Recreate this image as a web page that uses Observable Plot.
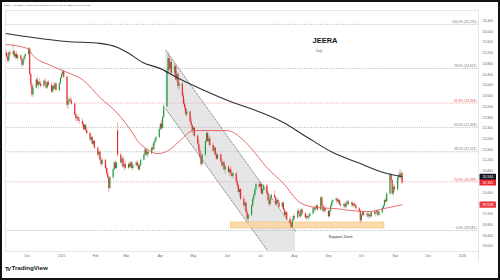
<!DOCTYPE html>
<html><head><meta charset="utf-8">
<script src="https://cdn.jsdelivr.net/npm/d3@7"></script>
<script src="https://cdn.jsdelivr.net/npm/@observablehq/plot@0.6"></script>
<style>
html,body{margin:0;padding:0;background:#fff;}
#wrap{position:relative;width:500px;height:280px;overflow:hidden;}
#frame{position:absolute;left:0;top:0;width:500px;height:280px;box-sizing:border-box;border:2px solid #111;pointer-events:none;}
</style></head><body><div id="wrap"><div id="frame"></div></div>
<script>
const headerText = "KEDIA_ADVISORY created with TradingView.com, Nov 07, 2025 11:17 UTC+5:30";
const symbolName = "JEERA";
const intervalName = "Daily";
const brand = "TradingView";

// daily OHLC, one row per week (Mon..Fri), from 2024-11-11 to 2025-11-07
const open = [
25100,25200,25050,24900,25200, 25150,25250,25050,25150,25000, 25100,24950,24750,24950,25050, 25150,25350,24400,24000,23650,
23900,24200,24000,24100,24050, 23950,24150,24050,23900,24100, 24000,23750,23950,23850,24050, 23800,24050,24250,24400,24500,
24300,23250,23400,23450,23400, 23300,22900,22750,22800,22700, 22650,22550,22350,22500,22300, 22200,21950,22050,21800,21900,
21650,21400,21500,21200,21050, 21200,20900,20700,20550,20150, 20550,20850,21100,20900,22300, 21400,21100,21250,20950,21050,
20900,21050,20950,21100,20900, 21000,21100,21000,20850,21000, 21200,21400,21600,21400,21500, 21450,21650,21600,21850,21950,
22050,22350,22550,22400,22800, 23200,24500,25000,24600,24850, 24450,24700,24200,24400,23950, 24050,23600,23300,23150,22900,
23000,22650,22500,22300,22400, 22100,21800,21550,21300,21050, 21400,21900,22200,21900,22000, 21750,21550,21650,21400,21250,
21400,21150,21000,21100,20850, 20950,20750,20850,20700,20600, 20700,20400,20250,20000,20100, 19750,19500,19600,19250,19000,
19150,19500,19750,19900,20100, 20300,20200,20300,19950,20100, 20250,19950,19700,19550,19800, 19900,19800,19550,19700,19600,
19450,19600,19350,19150,19250, 19000,18850,18700,18950,19100, 19050,19300,19200,19100,19350, 19200,19050,19100,19050,19100,
19200,19400,19350,19400,19500, 19350,19800,19500,19300,19400, 19300,19100,19300,19500,19650, 19700,19750,19650,19700,19550,
19500,19550,19450,19600,19650, 19550,19600,19500,19550,19500, 19400,19300,18950,19150,19250, 19150,19200,19100,19150,19100,
19250,19200,19250,19300,19150, 19250,19400,19500,19700,19650, 19950,20650,20450,19950,20200, 20100,20550,20650,20600,20700];
const high = [
25250,25300,25150,25250,25300, 25550,25300,25200,25250,25150, 25150,25000,25000,25100,25200, 25400,25400,24450,24100,24000,
24250,24300,24150,24250,24150, 24200,24250,24100,24150,24200, 24100,24000,24050,24100,24100, 24100,24300,24450,24550,24550,
24350,23500,23550,23550,23500, 23350,23000,22850,22900,22800, 22750,22600,22550,22550,22400, 22250,22100,22100,21950,21950,
21700,21550,21550,21300,21250, 21250,21000,20850,20600,20600, 20900,21150,21200,21150,22600, 21450,21300,21350,21100,21200,
21100,21150,21150,21150,21050, 21150,21200,21100,21050,21250, 21450,21650,21650,21550,21600, 21700,21800,21900,22000,22100,
22400,22600,22700,22850,23300, 24600,25250,25150,24950,24950, 24800,24750,24500,24450,24150, 24100,23700,23450,23250,23100,
23050,22800,22550,22450,22450, 22150,21950,21700,21400,21450, 21950,22300,22250,22100,22100, 21850,21700,21700,21500,21450,
21450,21250,21150,21150,21000, 21000,20900,20950,20800,20750, 20750,20500,20300,20150,20150, 19850,19650,19650,19350,19200,
19550,19800,19950,20150,20350, 20400,20350,20350,20150,20300, 20300,20050,19800,19850,19950, 20050,19850,19750,19800,19700,
19650,19650,19400,19300,19300, 19100,18900,19000,19150,19200, 19350,19400,19300,19400,19400, 19250,19150,19200,19150,19250,
19450,19500,19450,19550,19550, 19850,19850,19550,19450,19500, 19350,19350,19550,19700,19750, 19800,19800,19750,19750,19650,
19600,19600,19650,19700,19700, 19650,19650,19600,19650,19550, 19450,19350,19200,19300,19300, 19250,19250,19200,19250,19300,
19350,19300,19350,19350,19300, 19450,19550,19750,19800,20000, 20710,20700,20500,20250,20300, 20600,20750,20860,20800,20750];
const low = [
24950,25000,24850,24850,25050, 25100,25000,24950,24950,24900, 24900,24650,24700,24850,24950, 25100,24350,23900,23550,23550,
23850,23950,23850,23950,23900, 23900,24000,23850,23850,23950, 23700,23700,23800,23800,23750, 23750,24000,24200,24300,24250,
23150,23100,23300,23350,23250, 22850,22650,22600,22650,22550, 22450,22300,22300,22250,22150, 21900,21850,21750,21700,21600,
21350,21250,21150,20950,21000, 20850,20650,20500,20000,20100, 20500,20800,20850,20850,21300, 21050,20950,20900,20800,20850,
20850,20900,20900,20850,20800, 20950,20950,20800,20800,20950, 21150,21350,21350,21300,21350, 21400,21550,21550,21750,21850,
22000,22300,22300,22350,22750, 23150,24400,24500,24450,24350, 24350,24150,24100,23850,23800, 23550,23250,23050,22850,22800,
22600,22450,22200,22100,22050, 21750,21500,21250,20950,21000, 21350,21850,21850,21750,21700, 21500,21400,21350,21200,21200,
21100,20950,20850,20800,20700, 20700,20600,20650,20550,20500, 20350,20150,19950,19800,19700, 19450,19300,19200,18950,18850,
19100,19450,19650,19850,20050, 20150,20050,19900,19900,20050, 19900,19650,19450,19500,19700, 19750,19500,19500,19550,19400,
19400,19300,19100,19050,18950, 18800,18650,18650,18900,18950, 19000,19150,19050,19050,19150, 19000,18950,19000,18950,19050,
19150,19300,19250,19350,19300, 19300,19450,19250,19200,19250, 19050,19050,19250,19450,19550, 19600,19600,19550,19500,19450,
19400,19400,19400,19500,19500, 19450,19450,19400,19450,19350, 19250,18850,18900,19100,19100, 19050,19050,19000,19050,19050,
19150,19100,19150,19100,19100, 19200,19350,19450,19600,19600, 19900,20350,19900,19850,20000, 20050,20450,20500,20450,20300];
const close = [
25200,25050,24900,25200,25150, 25250,25050,25150,25000,25100, 24950,24750,24950,25050,25150, 25350,24400,24000,23650,23900,
24200,24000,24100,24050,23950, 24150,24050,23900,24100,24000, 23750,23950,23850,24050,23800, 24050,24250,24400,24500,24300,
23250,23400,23450,23400,23300, 22900,22750,22800,22700,22650, 22550,22350,22500,22300,22200, 21950,22050,21800,21900,21650,
21400,21500,21200,21050,21200, 20900,20700,20550,20150,20550, 20850,21100,20900,21100,21400, 21100,21250,20950,21050,20900,
21050,20950,21100,20900,21000, 21100,21000,20850,21000,21200, 21400,21600,21400,21500,21450, 21650,21600,21850,21950,22050,
22350,22550,22400,22800,23200, 24500,25000,24600,24850,24450, 24700,24200,24400,23950,24050, 23600,23300,23150,22900,23000,
22650,22500,22300,22400,22100, 21800,21550,21300,21050,21400, 21900,22200,21900,22000,21750, 21550,21650,21400,21250,21400,
21150,21000,21100,20850,20950, 20750,20850,20700,20600,20700, 20400,20250,20000,20100,19750, 19500,19600,19250,19000,19150,
19500,19750,19900,20100,20300, 20200,20300,19950,20100,20250, 19950,19700,19550,19800,19900, 19800,19550,19700,19600,19450,
19600,19350,19150,19250,19000, 18850,18700,18950,19100,19050, 19300,19200,19100,19350,19200, 19050,19100,19050,19100,19200,
19400,19350,19400,19500,19350, 19800,19500,19300,19400,19300, 19100,19300,19500,19650,19700, 19750,19650,19700,19550,19500,
19550,19450,19600,19650,19550, 19600,19500,19550,19500,19400, 19300,18950,19150,19250,19150, 19200,19100,19150,19100,19250,
19200,19250,19300,19150,19250, 19400,19500,19700,19650,19950, 20650,20450,19950,20200,20100, 20550,20650,20600,20700,20355];

// moving averages (read at sample dates)
const ma200Dates = ["2024-11-11","2024-12-06","2025-01-06","2025-02-05","2025-02-21","2025-03-02","2025-03-16","2025-04-01","2025-04-16","2025-05-07","2025-06-06","2025-06-22","2025-07-22","2025-08-13","2025-09-05","2025-09-30","2025-10-21","2025-11-07"];
const ma200Values = [25930,25780,25630,25560,25410,25220,24850,24620,24290,23880,23360,23130,22610,22050,21490,21080,20750,20590];
const ma50Dates = ["2024-11-11","2024-12-01","2024-12-06","2024-12-22","2025-01-06","2025-01-21","2025-02-05","2025-02-21","2025-03-07","2025-03-11","2025-03-20","2025-03-29","2025-04-08","2025-04-19","2025-05-01","2025-06-01","2025-06-13","2025-06-22","2025-07-07","2025-07-22","2025-08-06","2025-08-21","2025-09-08","2025-09-21","2025-10-09","2025-10-21","2025-11-07"];
const ma50Values = [25520,25370,25110,24740,24480,24180,23540,22950,22200,21940,21620,21450,21560,21940,22310,22310,22050,21680,20930,20340,19630,19440,19400,19330,19290,19400,19540];

// drawings
const channelDates = ["2025-04-06","2025-08-02"];
const channelUpper = [25300,18560];
const channelLower = [23110,16380];
const zoneDates = ["2025-06-04","2025-10-22"];
const zonePrices = [18660,18884];
const zoneLabel = "Support Zone";
const zoneLabelDate = "2025-09-12";
const zoneLabelPrice = 18370;

const fibLevels = ["100.0%","78.6%","61.8%","50.0%","38.2%","23.6%","0.0%"];
const fibPrices = [26270,24625,23334,22428,21521,20399,18585];
const fibLineColors = ["#9a9a9a","#9a9a9a","#e58080","#9a9a9a","#9a9a9a","#e58080","#9a9a9a"];
const fibTextColors = ["#777","#777","#e05555","#777","#777","#e05555","#777"];

const monthTicks = ["2024-12-01","2025-01-01","2025-02-01","2025-03-01","2025-04-01","2025-05-01","2025-06-01","2025-07-01","2025-08-01","2025-09-01","2025-10-01","2025-11-01","2025-12-01","2026-01-01"];
const monthLabels = ["Dec","2025","Feb","Mar","Apr","May","Jun","Jul","Aug","Sep","Oct","Nov","Dec","2026"];
const priceTicks = [18000,18400,18800,19200,19600,20000,20400,20800,21200,21600,22000,22400,22800,23200,23600,24000,24400,24800,25200,25600,26000,26400];

const tagValues = [20564,20355,19528];
const tagColors = ["#131722","#e8262c","#ec3b40"];

const UP = "#1f9a3d", DOWN = "#e8262c";
const day = s => new Date(s + "T00:00:00Z");
const fmt = d3.format(",");

// trading days (weekdays) for the bars
const dates = [];
for (let t = Date.UTC(2024,10,11); dates.length < close.length; t += 864e5) {
  const d = new Date(t); const wd = d.getUTCDay();
  if (wd !== 0 && wd !== 6) dates.push(d);
}
const bars = dates.map((d,i) => ({date:d, o:open[i], h:high[i], l:low[i], c:close[i]}));
const ma200 = ma200Dates.map((d,i) => ({date:day(d), v:ma200Values[i]}));
const ma50 = ma50Dates.map((d,i) => ({date:day(d), v:ma50Values[i]}));
const channel = channelDates.map((d,i) => ({date:day(d), up:channelUpper[i], lo:channelLower[i]}));
const zone = [{x1:day(zoneDates[0]), x2:day(zoneDates[1]), y1:zonePrices[0], y2:zonePrices[1]}];
const labelMap = new Map(monthTicks.map((m,i) => [+day(m), monthLabels[i]]));

const plot = Plot.plot({
  width: 500, height: 280,
  marginLeft: 5, marginRight: 22, marginTop: 10, marginBottom: 29,
  style: {fontFamily: "'Liberation Sans', Arial, sans-serif", background: "#fff"},
  x: {type: "utc", domain: [new Date(Date.UTC(2024,10,11)), new Date(Date.UTC(2026,0,15,14))]},
  y: {domain: [17802, 26787]},
  color: {type: "identity"},
  marks: [
    Plot.ruleY(fibPrices, {y: d => d, stroke: (d,i) => fibLineColors[i], strokeWidth: 0.7, strokeDasharray: "1,1.3"}),
    Plot.text(fibPrices, {y: d => d, text: (d,i) => `${fibLevels[i]} (${fmt(d)})`, frameAnchor: "right", textAnchor: "end", dx: -2, dy: -2.4, fontSize: 3.3, fill: (d,i) => fibTextColors[i]}),
    Plot.areaY(channel, {x: "date", y1: "lo", y2: "up", fill: "#c4c4c4", fillOpacity: 0.42, clip: true}),
    Plot.line(channel, {x: "date", y: "up", stroke: "#555", strokeWidth: 0.6, strokeDasharray: "2,1.5", clip: true}),
    Plot.line(channel, {x: "date", y: "lo", stroke: "#555", strokeWidth: 0.6, strokeDasharray: "2,1.5", clip: true}),
    Plot.rect(zone, {x1: "x1", x2: "x2", y1: "y1", y2: "y2", fill: "#fbd49c", fillOpacity: 0.85, stroke: "#f3b868", strokeWidth: 0.5}),
    Plot.ruleX(bars, {x: "date", y1: "l", y2: "h", stroke: d => d.c >= d.o ? UP : DOWN, strokeWidth: 0.45, strokeOpacity: 0.8}),
    Plot.ruleX(bars, {x: "date", y1: "o", y2: "c", stroke: d => d.c >= d.o ? UP : DOWN, strokeWidth: 1.15}),
    Plot.line(ma200, {x: "date", y: "v", stroke: "#2a2e39", strokeWidth: 1.1, curve: "monotone-x"}),
    Plot.line(ma50, {x: "date", y: "v", stroke: "#e35d5d", strokeWidth: 0.9, curve: "monotone-x"}),
    Plot.text([zoneLabel], {x: day(zoneLabelDate), y: zoneLabelPrice, text: d => d, fontSize: 4, fill: "#333"}),
    Plot.frame({stroke: "#dfe2ea", strokeWidth: 0.8}),
    Plot.axisX(monthTicks.map(day), {tickSize: 0, tickPadding: 3, tickFormat: d => labelMap.get(+d), fontSize: 3.4, fill: "#6a6d78", label: null}),
    Plot.axisY(priceTicks, {anchor: "right", tickSize: 0, tickPadding: 4, tickFormat: fmt, fontSize: 3.4, fill: "#6a6d78", label: null})
  ]
});

const svg = d3.select(plot);
const ys = plot.scale("y");
const g = svg.append("g").attr("font-family", "'Liberation Sans', Arial, sans-serif").attr("text-anchor", "start");
g.append("line").attr("x1", 478.5).attr("x2", 478.5).attr("y1", 251).attr("y2", 262).attr("stroke", "#dfe2ea").attr("stroke-width", 0.8);
tagValues.forEach((v,i) => {
  const yy = ys.apply(v);
  g.append("rect").attr("x", 479.5).attr("y", yy - 3.1).attr("width", 16.5).attr("height", 6.2).attr("fill", tagColors[i]).attr("rx", 0.6);
  g.append("text").attr("x", 487.75).attr("y", yy).attr("dy", "0.35em").attr("text-anchor", "middle").attr("font-size", 3.5).attr("fill", "#fff").text(fmt(v));
});
g.append("text").attr("x", 4).attr("y", 5.6).attr("font-size", 2.4).attr("fill", "#555").text(headerText);
g.append("text").attr("x", 325).attr("y", 43).attr("text-anchor", "middle").attr("font-size", 7.5).attr("font-weight", "bold").attr("fill", "#131722").text(symbolName);
g.append("text").attr("x", 316).attr("y", 51.5).attr("font-size", 2.8).attr("fill", "#555").text(intervalName);
g.append("text").attr("x", 5).attr("y", 270.6).attr("font-size", 5.6).attr("font-weight", 900).attr("letter-spacing", -1.1).attr("fill", "#131722").text("TV");
g.append("text").attr("x", 11.5).attr("y", 270.3).attr("font-size", 6.2).attr("font-weight", "bold").attr("fill", "#131722").text(brand);

document.getElementById("wrap").insertBefore(plot, document.getElementById("frame"));
</script></body></html>
